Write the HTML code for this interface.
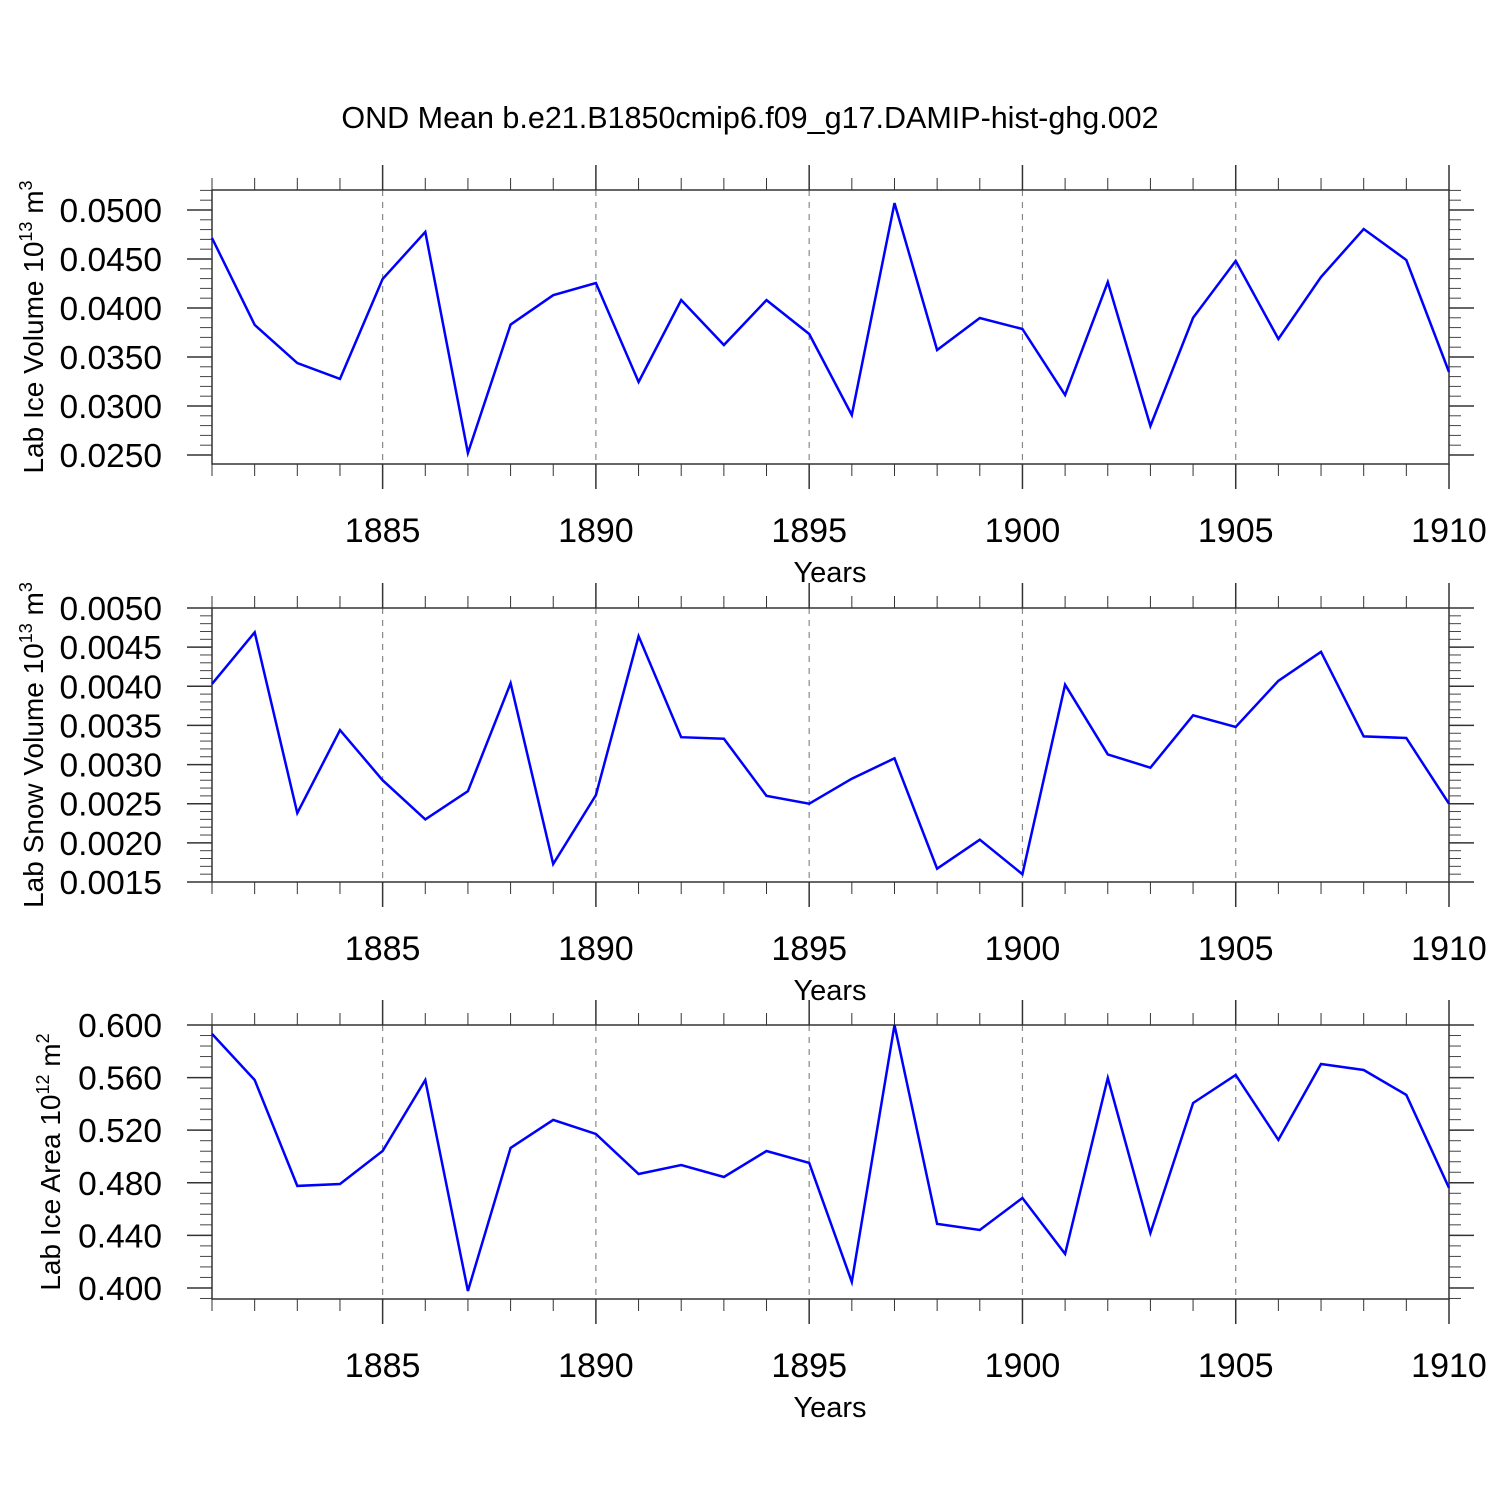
<!DOCTYPE html>
<html><head><meta charset="utf-8"><style>
body{margin:0;background:#fff;}
svg{display:block;font-family:"Liberation Sans",sans-serif;}
</style></head><body>
<svg id="chart" width="1500" height="1500" viewBox="0 0 1500 1500" xmlns="http://www.w3.org/2000/svg">
<text x="750" y="128" font-size="30.5" text-anchor="middle">OND Mean b.e21.B1850cmip6.f09_g17.DAMIP-hist-ghg.002</text>
</svg>
<script>
const years = [1881,1882,1883,1884,1885,1886,1887,1888,1889,1890,1891,1892,1893,1894,1895,1896,1897,1898,1899,1900,1901,1902,1903,1904,1905,1906,1907,1908,1909,1910];
const iceVolume = [0.04714,0.03827,0.03439,0.03276,0.04296,0.04776,0.02520,0.0383,0.0413,0.04255,0.03245,0.04082,0.03622,0.0408,0.03735,0.02908,0.0507,0.03571,0.03898,0.03786,0.03112,0.04265,0.02796,0.0390,0.0448,0.03684,0.04316,0.04806,0.0449,0.03347];
const snowVolume = [0.00403,0.00469,0.00238,0.00344,0.0028,0.0023,0.00266,0.00404,0.00173,0.00261,0.00464,0.00335,0.00333,0.0026,0.0025,0.00282,0.00308,0.00167,0.00204,0.0016,0.00402,0.00313,0.00296,0.00363,0.00348,0.00407,0.00444,0.00336,0.00334,0.0025];
const iceArea = [0.5932,0.5582,0.4776,0.4791,0.5042,0.5582,0.3977,0.5065,0.5278,0.5171,0.4867,0.4935,0.4844,0.5042,0.4951,0.4046,0.600,0.4487,0.4441,0.4684,0.4259,0.5597,0.4418,0.5407,0.562,0.5126,0.5703,0.5658,0.5468,0.4761];
const xTicks = [1885,1890,1895,1900,1905,1910];
const iceVolTicks = [0.025,0.030,0.035,0.040,0.045,0.050];
const snowTicks = [0.0015,0.0020,0.0025,0.0030,0.0035,0.0040,0.0045,0.0050];
const areaTicks = [0.400,0.440,0.480,0.520,0.560,0.600];

const NS="http://www.w3.org/2000/svg";
const svg=document.getElementById('chart');
function mk(tag,attrs,parent){const e=document.createElementNS(NS,tag);for(const k in attrs)e.setAttribute(k,attrs[k]);(parent||svg).appendChild(e);return e;}
const X0=212,X1=1449,YR0=1881,YR1=1910;
const xs=v=>X0+(v-YR0)/(YR1-YR0)*(X1-X0);

const panels=[
 {name:'ice-volume',top:190,bot:464,vTop:0.05204,vBot:0.02408,data:iceVolume,ticks:iceVolTicks,dec:4,minor:0.001,title:'Lab Ice Volume 10',sup:'13',unit:' m',usup:'3'},
 {name:'snow-volume',top:608,bot:882,vTop:0.0050,vBot:0.0015,data:snowVolume,ticks:snowTicks,dec:4,minor:0.0001,title:'Lab Snow Volume 10',sup:'13',unit:' m',usup:'3'},
 {name:'ice-area',top:1025,bot:1299,vTop:0.600,vBot:0.3916,data:iceArea,ticks:areaTicks,dec:3,minor:0.008,title:'Lab Ice Area 10',sup:'12',unit:' m',usup:'2'}
];
panels.forEach(p=>{
 const g=mk('g',{});
 
 
 const ys=v=>p.top+(p.vTop-v)/(p.vTop-p.vBot)*(p.bot-p.top);
 xTicks.forEach(t=>{if(t<YR1){const l=mk('line',{x1:xs(t),x2:xs(t),y1:p.top,y2:p.bot,stroke:'#888','stroke-width':1.2,'stroke-dasharray':'6,6'},g);
  }});
 years.forEach(yv=>{const maj=xTicks.includes(yv);const len=maj?25:12;const x=xs(yv);
  mk('line',{x1:x,x2:x,y1:p.top,y2:p.top-len,stroke:'#333','stroke-width':maj?1.5:1},g);
  mk('line',{x1:x,x2:x,y1:p.bot,y2:p.bot+len,stroke:'#333','stroke-width':maj?1.5:1},g);});
 xTicks.forEach(t=>{const tx=mk('text',{x:xs(t),y:p.bot+78,'font-size':34,'text-anchor':'middle'},g);tx.textContent=t;
  });
 const xt=mk('text',{x:830,y:p.bot+118,'font-size':29,'text-anchor':'middle'},g);xt.textContent='Years';
 
 const n=Math.round((p.ticks[p.ticks.length-1]-p.ticks[0])/p.minor);
 for(let i=-10;i<=n+10;i++){const v=p.ticks[0]+i*p.minor;const y=ys(v);if(y<p.top-0.5||y>p.bot+0.5)continue;
  mk('line',{x1:X0,x2:X0-12,y1:y,y2:y,stroke:'#444','stroke-width':1},g);
  mk('line',{x1:X1,x2:X1+12,y1:y,y2:y,stroke:'#444','stroke-width':1},g);}
 p.ticks.forEach(t=>{const y=ys(t);
  mk('line',{x1:X0,x2:X0-25,y1:y,y2:y,stroke:'#333','stroke-width':1.5},g);
  mk('line',{x1:X1,x2:X1+25,y1:y,y2:y,stroke:'#333','stroke-width':1.5},g);
  const tx=mk('text',{x:X0-50,y:y+12,'font-size':33.5,'text-anchor':'end'},g);tx.textContent=t.toFixed(p.dec);
  });
 mk('rect',{x:X0,y:p.top,width:X1-X0,height:p.bot-p.top,fill:'none',stroke:'#333','stroke-width':1.5},g);
 const cy=(p.top+p.bot)/2;const tx=p.name==='ice-area'?60:43;
 const yt=mk('text',{x:0,y:0,'font-size':28,'text-anchor':'middle',transform:`translate(${tx},${cy}) rotate(-90)`},g);
 
 yt.appendChild(document.createTextNode(p.title));
 const s1=mk('tspan',{dy:-11,'font-size':18},yt);s1.textContent=p.sup;
 const s2=mk('tspan',{dy:11},yt);s2.textContent=p.unit;
 const s3=mk('tspan',{dy:-11,'font-size':18},yt);s3.textContent=p.usup;
 const pts=p.data.map((v,i)=>xs(years[i]).toFixed(1)+','+ys(v).toFixed(1)).join(' ');
 const pl=mk('polyline',{points:pts,fill:'none',stroke:'#0000ff','stroke-width':2.5,'stroke-linejoin':'miter'},g);
 
 
});
</script>
</body></html>
